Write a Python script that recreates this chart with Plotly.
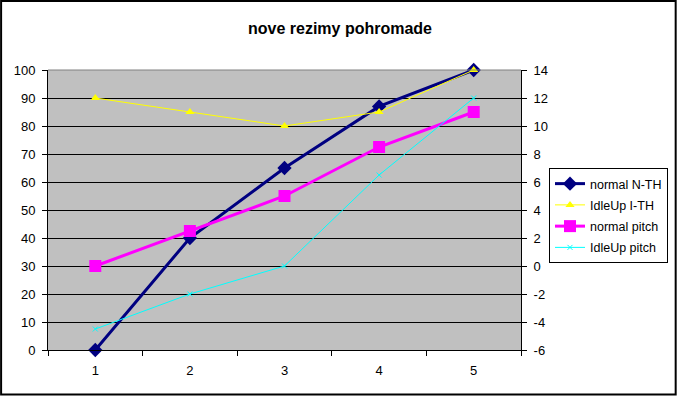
import plotly.graph_objects as go

categories = [1, 2, 3, 4, 5]
normal_nth = [0, 40, 65, 87, 100]
idleup_ith = [90, 85, 80, 85, 100]
normal_pitch = [0, 2.5, 5, 8.5, 11]
idleup_pitch = [-4.5, -2, 0, 6.5, 12]
left_ticks = list(range(0, 101, 10))
right_ticks = list(range(-6, 15, 2))

W, H = 679, 396
L, R, T, B = 48, 522, 70, 350
pw, ph = R - L, B - T

def px(x):
    return (x - L) / pw

def py(y):
    return (B - y) / ph

FONT = "Liberation Sans, Arial, sans-serif"

fig = go.Figure()
fig.add_trace(go.Scatter(x=categories, y=normal_nth, name="normal N-TH", mode="lines+markers",
                         legendgroup="a", cliponaxis=False,
                         line=dict(color="#000080", width=3),
                         marker=dict(symbol="diamond", size=11, color="#000080"), yaxis="y"))
fig.add_trace(go.Scatter(x=categories, y=idleup_ith, name="IdleUp I-TH", mode="lines+markers",
                         legendgroup="b", cliponaxis=False,
                         line=dict(color="#FFFF00", width=1),
                         marker=dict(symbol="triangle-up", size=8, color="#FFFF00"), yaxis="y"))
fig.add_trace(go.Scatter(x=categories, y=normal_pitch, name="normal pitch", mode="lines+markers",
                         legendgroup="c", cliponaxis=False,
                         line=dict(color="#FF00FF", width=3),
                         marker=dict(symbol="square", size=12, color="#FF00FF"), yaxis="y2"))
fig.add_trace(go.Scatter(x=categories, y=idleup_pitch, name="IdleUp pitch", mode="lines+markers",
                         legendgroup="d", cliponaxis=False,
                         line=dict(color="#00FFFF", width=1),
                         marker=dict(symbol="x-thin", size=5, line=dict(color="#00FFFF", width=1)), yaxis="y2"))

fig.update_layout(
    width=W, height=H,
    margin=dict(l=L, r=W - R, t=T, b=H - B, pad=0),
    paper_bgcolor="white", plot_bgcolor="#C0C0C0",
    font=dict(family=FONT, size=13, color="black"),
    title=dict(text="<b>nove rezimy pohromade</b>", x=340 / W, xanchor="center",
               y=1 - 28 / H, yanchor="middle", font=dict(family=FONT, size=16, color="black")),
    xaxis=dict(range=[0.5, 5.5], tickvals=categories, ticktext=[str(c) for c in categories],
               ticks="", showgrid=False, zeroline=False, showline=True, linecolor="black", linewidth=1,
               ticklabelstandoff=8,
               minor=dict(tickvals=[0.5, 1.5, 2.5, 3.5, 4.5, 5.5], ticks="outside", ticklen=5,
                          tickcolor="black", tickwidth=1, showgrid=False)),
    yaxis=dict(range=[0, 100], tickvals=left_ticks, ticktext=[str(v) for v in left_ticks],
               ticks="outside", ticklen=5, tickcolor="black",
               showgrid=True, gridcolor="black", gridwidth=1, zeroline=False,
               showline=True, linecolor="black", linewidth=1, ticklabelstandoff=4),
    yaxis2=dict(range=[-6, 14], tickvals=right_ticks, ticktext=[str(v) for v in right_ticks],
                overlaying="y", side="right",
                ticks="outside", ticklen=5, tickcolor="black", showgrid=False, zeroline=False,
                showline=True, linecolor="black", linewidth=1, ticklabelstandoff=4),
    legend=dict(x=px(668), y=py(168), xanchor="right", yanchor="top",
                bgcolor="white", bordercolor="black", borderwidth=1,
                font=dict(family=FONT, size=12.5, color="black"), tracegroupgap=2,
                itemwidth=30),
    showlegend=True,
    shapes=[
        dict(type="line", xref="paper", yref="paper", x0=0, x1=1, y0=1, y1=1,
             line=dict(color="#808080", width=1)),
        dict(type="rect", xref="paper", yref="paper", x0=px(1), x1=px(677), y0=py(1), y1=py(394.5),
             line=dict(color="black", width=2), fillcolor="rgba(0,0,0,0)", layer="above"),
    ],
)

fig.write_html("out.html", config={"displayModeBar": False},
               post_script="document.body.style.margin='0';document.body.style.padding='0';")
